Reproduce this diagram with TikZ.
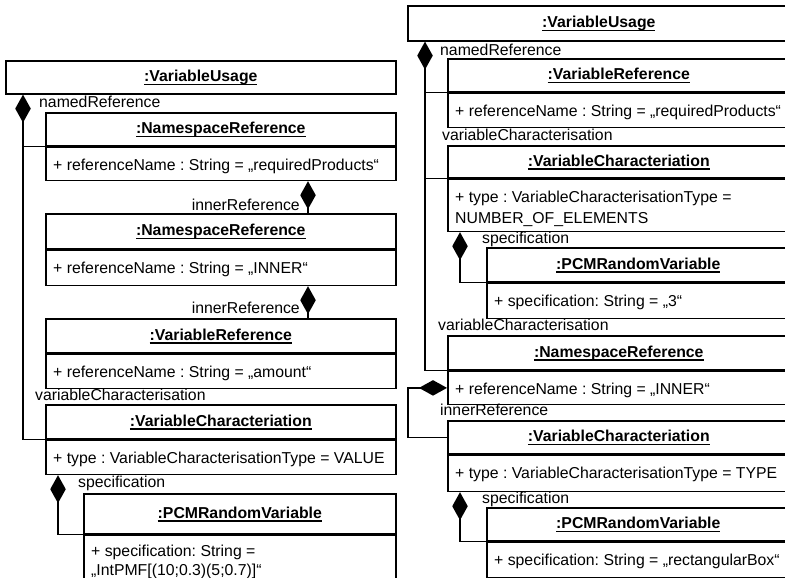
\documentclass[tikz,border=0pt]{standalone}
\usepackage{fontspec}
\setmainfont{Liberation Sans}
\usetikzlibrary{arrows.meta,calc}
\frenchspacing

% underlined object title (UML instance name)
\newcommand\ultitle[1]{\setbox0=\hbox{#1}\rlap{\rule[-3.5pt]{\wd0}{1.4pt}}\box0}
% object box: name, x, y, width, title height, attribute height, title, attribute text
\newcommand\umlobj[8]{%
  \node[objtitle, minimum width=#4pt, minimum height=#5pt] (#1) at (#2,#3) {\ultitle{#7}};
  \node[objattr, minimum width=#4pt, minimum height=#6pt] (#1-a) at (#1.south west) {};
  \node[attrtext] (#1-t) at ([shift={(8,24)}]#1-a.north west) {#8};
}

\begin{document}
\begin{tikzpicture}[x=1pt, y=-1pt,
  basefont/.style={font=\fontsize{15.8pt}{20.5pt}\selectfont},
  objtitle/.style={draw, line width=1.6pt, anchor=north west, inner sep=0pt,
    font=\fontsize{15.8pt}{20.5pt}\selectfont\bfseries, text height=12pt, text depth=3pt},
  objattr/.style={draw, line width=1.6pt, anchor=north west, inner sep=0pt},
  attrtext/.style={basefont, anchor=base west, inner sep=0pt},
  lbl/.style={basefont, anchor=base west, inner sep=0pt},
  lblr/.style={basefont, anchor=base east, inner sep=0pt},
  conn/.style={draw, line width=1.6pt},
  comp/.style={conn, {Diamond[length=28pt,width=15.5pt]}-},
]
\useasboundingbox (0,0) rectangle (785,578);

% ---------------- left object structure ----------------
\node[objtitle, minimum width=390pt, minimum height=33pt] (vuL) at (5,60) {\ultitle{:VariableUsage}};
\umlobj{nr1}{45}{112}{350}{33}{33}{:NamespaceReference}{+ referenceName : String = „requiredProducts“}
\umlobj{nr2}{45}{213}{350}{35}{35}{:NamespaceReference}{+ referenceName : String = „INNER“}
\umlobj{vrL}{45}{318}{350}{34}{34}{:VariableReference}{+ referenceName : String = „amount“}
\umlobj{vcL}{45}{404}{350}{34}{34}{:VariableCharacteriation}{+ type : VariableCharacterisationType = VALUE}
\umlobj{pcmL}{83}{493}{312}{40}{44}{:PCMRandomVariable}{\raisebox{2pt}{\begin{tabular}[t]{@{}l@{}}+ specification: String =\\[-2pt]„IntPMF[(10;0.3)(5;0.7)]“\end{tabular}}}

\coordinate (vuLj) at ([xshift=18pt]vuL.south west);
\draw[comp] (vuLj) |- (vcL.south west);
\draw[conn] (vuLj |- nr1.south west) -- (nr1.south west);
\draw[comp] ([xshift=263pt]nr1-a.south west) -- ([xshift=263pt]nr2.north west);
\draw[comp] ([xshift=263pt]nr2-a.south west) -- ([xshift=263pt]vrL.north west);
\draw[comp] ([xshift=13pt]vcL-a.south west) |- (pcmL.south west);

\node[lbl] (lnamedL) at (39,107.5) {namedReference};
\node[lblr] (linner1) at (300,210.5) {innerReference};
\node[lblr] (linner2) at (300,313.5) {innerReference};
\node[lbl] (lvcL) at (35,400.5) {variableCharacterisation};
\node[lbl] (lspecL) at (78,487.5) {specification};

% ---------------- right object structure ----------------
\node[objtitle, minimum width=382pt, minimum height=35pt] (vuR) at (407,5) {\ultitle{:VariableUsage}};
\umlobj{vrR}{447}{58}{342}{33}{34}{:VariableReference}{+ referenceName : String = „requiredProducts“}
\umlobj{vc1R}{447}{145}{342}{32}{52}{:VariableCharacteriation}{\begin{tabular}[t]{@{}l@{}}+ type : VariableCharacterisationType =\\NUMBER\_OF\_ELEMENTS\end{tabular}}
\umlobj{pcm1R}{486}{247}{303}{34}{35}{:PCMRandomVariable}{+ specification: String = „3“}
\umlobj{nrR}{447}{335}{342}{34}{33}{:NamespaceReference}{+ referenceName : String = „INNER“}
\umlobj{vc2R}{447}{420}{342}{33}{36}{:VariableCharacteriation}{+ type : VariableCharacterisationType = TYPE}
\umlobj{pcm2R}{486}{507}{303}{33}{35}{:PCMRandomVariable}{+ specification: String = „rectangularBox“}

\coordinate (vuRj) at ([xshift=18pt]vuR.south west);
\draw[comp] (vuRj) |- (nrR.south west);
\draw[conn] (vuRj |- vrR.south west) -- (vrR.south west);
\draw[conn] (vuRj |- vc1R.south west) -- (vc1R.south west);
\draw[comp] ([xshift=13pt]vc1R-a.south west) |- (pcm1R.south west);
\draw[comp] (nrR-a.west) -- ++(-39,0) |- (vc2R.west);
\draw[comp] ([xshift=13pt]vc2R-a.south west) |- (pcm2R.south west);

\node[lbl] (lnamedR) at (440,55.5) {namedReference};
\node[lbl] (lvc1R) at (442,140.5) {variableCharacterisation};
\node[lbl] (lspec1R) at (482,243.5) {specification};
\node[lbl] (lvc2R) at (438,330.5) {variableCharacterisation};
\node[lbl] (linnerR) at (440,415.5) {innerReference};
\node[lbl] (lspec2R) at (482,503.5) {specification};
\end{tikzpicture}
\end{document}
